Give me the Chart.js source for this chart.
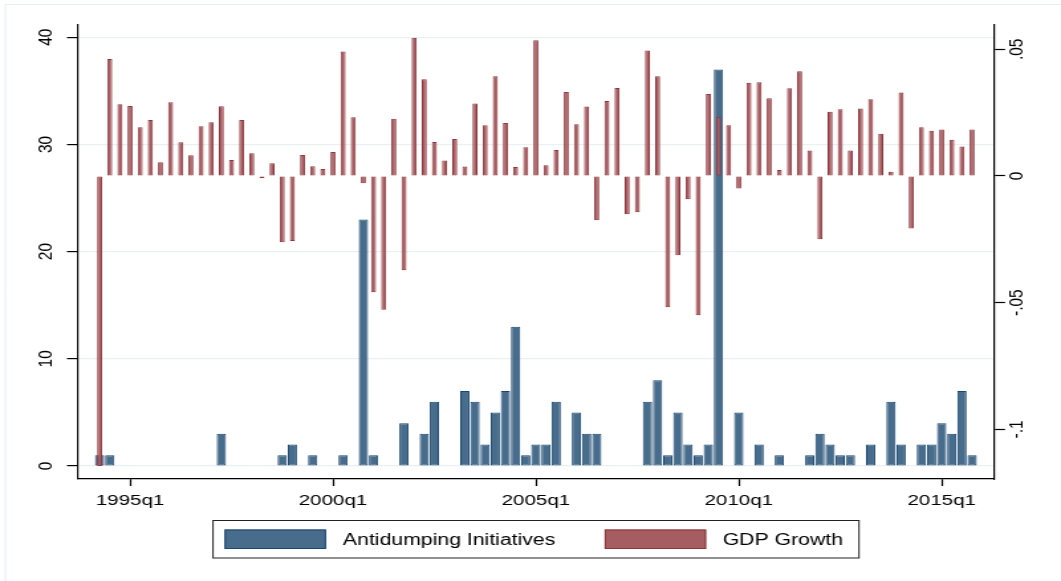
<!DOCTYPE html>
<html>
<head>
<meta charset="utf-8">
<title>Antidumping Initiatives and GDP Growth</title>
<script src="https://cdn.jsdelivr.net/npm/chart.js@4.4.1/dist/chart.umd.min.js"></script>
<style>
    html, body { margin: 0; padding: 0; background: #fff; }
</style>
</head>
<body>
<!-- drawn at 800px wide and stretched to 1061px, like the original graph export -->
<canvas id="chart" width="800" height="581" style="width:1061px;height:581px;display:block"></canvas>
<script>
// Quarters on the x axis
const quarters = [
    '1994q2', '1994q3', '1994q4',
    '1995q1', '1995q2', '1995q3', '1995q4',
    '1996q1', '1996q2', '1996q3', '1996q4',
    '1997q1', '1997q2', '1997q3', '1997q4',
    '1998q1', '1998q2', '1998q3', '1998q4',
    '1999q1', '1999q2', '1999q3', '1999q4',
    '2000q1', '2000q2', '2000q3', '2000q4',
    '2001q1', '2001q2', '2001q3', '2001q4',
    '2002q1', '2002q2', '2002q3', '2002q4',
    '2003q1', '2003q2', '2003q3', '2003q4',
    '2004q1', '2004q2', '2004q3', '2004q4',
    '2005q1', '2005q2', '2005q3', '2005q4',
    '2006q1', '2006q2', '2006q3', '2006q4',
    '2007q1', '2007q2', '2007q3', '2007q4',
    '2008q1', '2008q2', '2008q3', '2008q4',
    '2009q1', '2009q2', '2009q3', '2009q4',
    '2010q1', '2010q2', '2010q3', '2010q4',
    '2011q1', '2011q2', '2011q3', '2011q4',
    '2012q1', '2012q2', '2012q3', '2012q4',
    '2013q1', '2013q2', '2013q3', '2013q4',
    '2014q1', '2014q2', '2014q3', '2014q4',
    '2015q1', '2015q2', '2015q3', '2015q4'
];

// Antidumping initiatives per quarter (left axis)
const antidumping = [
    1, 1, 0,
    0, 0, 0, 0,
    0, 0, 0, 0,
    0, 3, 0, 0,
    0, 0, 0, 1,
    2, 0, 1, 0,
    0, 1, 0, 23,
    1, 0, 0, 4,
    0, 3, 6, 0,
    0, 7, 6, 2,
    5, 7, 13, 1,
    2, 2, 6, 0,
    5, 3, 3, 0,
    0, 0, 0, 6,
    8, 1, 5, 2,
    1, 2, 37, 0,
    5, 0, 2, 0,
    1, 0, 0, 1,
    3, 2, 1, 1,
    0, 2, 0, 6,
    2, 0, 2, 2,
    4, 3, 7, 1
];

// GDP growth per quarter (right axis)
const gdpGrowth = [
    -0.1145, 0.0462, 0.0283,
    0.0276, 0.0192, 0.0221, 0.0054,
    0.0291, 0.0133, 0.0082, 0.0196,
    0.0212, 0.0275, 0.0063, 0.0221,
    0.0090, -0.0009, 0.0050, -0.0262,
    -0.0257, 0.0083, 0.0038, 0.0028,
    0.0095, 0.0491, 0.0232, -0.0029,
    -0.0459, -0.0528, 0.0226, -0.0372,
    0.0546, 0.0382, 0.0134, 0.0061,
    0.0146, 0.0037, 0.0286, 0.0200,
    0.0394, 0.0209, 0.0036, 0.0113,
    0.0536, 0.0042, 0.0103, 0.0332,
    0.0204, 0.0274, -0.0175, 0.0296,
    0.0347, -0.0151, -0.0143, 0.0495,
    0.0394, -0.0518, -0.0313, -0.0092,
    -0.0550, 0.0324, 0.0234, 0.0200,
    -0.0049, 0.0368, 0.0370, 0.0307,
    0.0024, 0.0346, 0.0413, 0.0101,
    -0.0250, 0.0254, 0.0263, 0.0101,
    0.0266, 0.0303, 0.0167, 0.0017,
    0.0330, -0.0207, 0.0192, 0.0179,
    0.0184, 0.0143, 0.0116, 0.0184
];

// Tick labels
const xTickLabels = ['1995q1', '2000q1', '2005q1', '2010q1', '2015q1'];
const leftTicks = [0, 10, 20, 30, 40];
const leftTickLabels = ['0', '10', '20', '30', '40'];
const rightTicks = [-0.1, -0.05, 0, 0.05];
const rightTickLabels = ['-.1', '-.05', '0', '.05'];

const FONT = "'Liberation Sans', Arial, Helvetica, sans-serif";
const BLUE_FILL = 'rgb(72,108,140)';
const BLUE_LINE = 'rgb(26,71,111)';
const RED_FILL = 'rgb(166,93,98)';
const RED_LINE = 'rgb(144,53,59)';

// quarters since 1960q1, like Stata's %tq
function toQ(label) {
    const year = parseInt(label.slice(0, 4), 10);
    const q = parseInt(label.slice(5), 10);
    return (year - 1960) * 4 + (q - 1);
}
function fromQ(v) {
    const year = 1960 + Math.floor(v / 4);
    return year + 'q' + (v - (year - 1960) * 4 + 1);
}

const antidumpingPoints = quarters.map((q, i) => ({ x: toQ(q), y: antidumping[i] }));
const gdpPoints = quarters.map((q, i) => ({ x: toQ(q), y: gdpGrowth[i] }));

// background and the faint outer frame
const framePlugin = {
    id: 'frame',
    beforeDraw(chart) {
        const ctx = chart.ctx;
        ctx.save();
        ctx.fillStyle = '#fff';
        ctx.fillRect(0, 0, chart.width, chart.height);
        ctx.strokeStyle = '#e6eef0';
        ctx.lineWidth = 1;
        ctx.beginPath();
        ctx.moveTo(4, chart.height);
        ctx.lineTo(4, 4.5);
        ctx.lineTo(chart.width, 4.5);
        ctx.stroke();
        ctx.restore();
    }
};

// vertical tick labels on both y axes
const yLabelsPlugin = {
    id: 'yLabels',
    afterDraw(chart) {
        const ctx = chart.ctx;
        const left = chart.scales.yLeft;
        const right = chart.scales.yRight;
        ctx.save();
        ctx.fillStyle = '#000';
        ctx.font = '15.5px ' + FONT;
        ctx.textAlign = 'center';
        ctx.textBaseline = 'middle';
        const drawRotated = (text, x, y) => {
            ctx.save();
            ctx.translate(x, y);
            ctx.rotate(-Math.PI / 2);
            ctx.fillText(text, 0, 0);
            ctx.restore();
        };
        leftTicks.forEach((v, i) => drawRotated(leftTickLabels[i], left.right - 23.6, left.getPixelForValue(v)));
        rightTicks.forEach((v, i) => drawRotated(rightTickLabels[i], right.left + 17.1, right.getPixelForValue(v)));
        ctx.restore();
    }
};

// boxed legend under the plot
const legendPlugin = {
    id: 'boxLegend',
    afterDraw(chart) {
        const ctx = chart.ctx;
        const sets = chart.data.datasets;
        const items = [
            { ds: sets[0], swatchX: 169.3, textX: 258.6 },
            { ds: sets[1], swatchX: 455.9, textX: 544.9 }
        ];
        ctx.save();
        ctx.strokeStyle = '#222';
        ctx.lineWidth = 1;
        ctx.strokeRect(160.6, 520.5, 487.1, 37.5);
        ctx.font = '16px ' + FONT;
        ctx.textAlign = 'left';
        ctx.textBaseline = 'alphabetic';
        items.forEach(item => {
            ctx.fillStyle = item.ds.backgroundColor;
            ctx.fillRect(item.swatchX, 529.5, 76.5, 19.5);
            ctx.strokeStyle = item.ds.borderColor;
            ctx.strokeRect(item.swatchX + 0.5, 530, 75.5, 18.5);
            ctx.fillStyle = '#000';
            ctx.fillText(item.ds.label, item.textX, 545);
        });
        ctx.restore();
    }
};

const tickFont = { family: FONT, size: 15.5 };

new Chart(document.getElementById('chart'), {
    type: 'bar',
    data: {
        datasets: [
            {
                label: 'Antidumping Initiatives',
                data: antidumpingPoints,
                yAxisID: 'yLeft',
                backgroundColor: BLUE_FILL,
                borderColor: BLUE_LINE,
                borderWidth: 1,
                borderSkipped: false,
                grouped: false,
                categoryPercentage: 1,
                barPercentage: 0.91,
                order: 1
            },
            {
                label: 'GDP Growth',
                data: gdpPoints,
                yAxisID: 'yRight',
                backgroundColor: RED_FILL,
                borderColor: RED_LINE,
                borderWidth: 1,
                borderSkipped: false,
                grouped: false,
                categoryPercentage: 1,
                barPercentage: 0.49,
                order: 0
            }
        ]
    },
    options: {
        responsive: false,
        animation: false,
        devicePixelRatio: 1,
        layout: { padding: { top: 25, left: 0, right: 0, bottom: 0 } },
        plugins: {
            legend: { display: false },
            tooltip: { enabled: false }
        },
        scales: {
            x: {
                type: 'linear',
                position: 'bottom',
                offset: false,
                min: toQ(quarters[0]) - 2.13,
                max: toQ(quarters[quarters.length - 1]) + 2.16,
                afterBuildTicks: scale => { scale.ticks = xTickLabels.map(l => ({ value: toQ(l) })); },
                afterFit: scale => { scale.height = 102; },
                ticks: {
                    callback: v => fromQ(v),
                    font: tickFont,
                    color: '#000',
                    padding: 5,
                    maxRotation: 0,
                    autoSkip: false
                },
                grid: { offset: false, drawOnChartArea: false, tickLength: 7, tickColor: '#000', tickWidth: 1.2 },
                border: { color: '#000', width: 1.2 }
            },
            yLeft: {
                type: 'linear',
                position: 'left',
                min: -1.21,
                max: 41.14,
                afterBuildTicks: scale => { scale.ticks = leftTicks.map(v => ({ value: v })); },
                afterFit: scale => { scale.width = 58.8; },
                ticks: { display: false },
                grid: { color: '#e9f1f3', lineWidth: 1.2, tickLength: 8.3, tickColor: '#000', tickWidth: 1.2 },
                border: { color: '#000', width: 1.2 }
            },
            yRight: {
                type: 'linear',
                position: 'right',
                min: -0.1196,
                max: 0.0596,
                afterBuildTicks: scale => { scale.ticks = rightTicks.map(v => ({ value: v })); },
                afterFit: scale => { scale.width = 50.5; },
                ticks: { display: false },
                grid: { drawOnChartArea: false, tickLength: 8.3, tickColor: '#000', tickWidth: 1.2 },
                border: { color: '#000', width: 1.2 }
            }
        }
    },
    plugins: [framePlugin, yLabelsPlugin, legendPlugin]
});
</script>
</body>
</html>
